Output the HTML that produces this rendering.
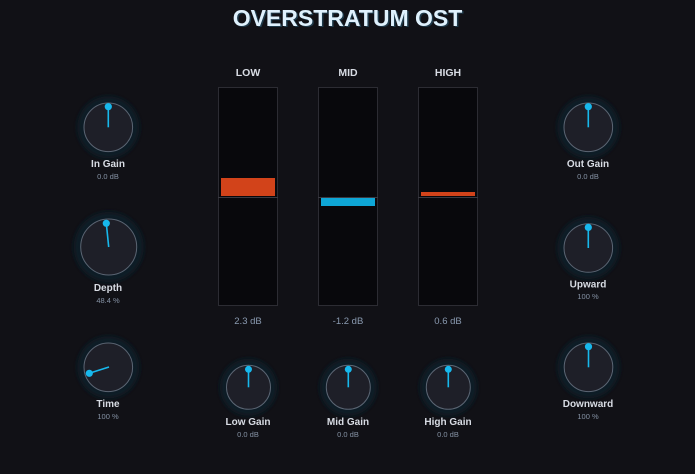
<!DOCTYPE html>
<html><head><meta charset="utf-8"><style>
html,body{margin:0;padding:0;background:#111116;width:695px;height:474px;overflow:hidden}
svg{display:block}
text{font-family:"Liberation Sans",sans-serif}
.lbl{font-size:10px;font-weight:bold;fill:#d8dce4;text-anchor:middle}
.val{font-size:7.5px;fill:#8592a4;text-anchor:middle}
.hdr{font-size:10.5px;font-weight:bold;fill:#d8dce4;text-anchor:middle}
.db{font-size:9.5px;fill:#8a9ab0;text-anchor:middle}
</style></head><body>
<svg width="695" height="474" viewBox="0 0 695 474" xmlns="http://www.w3.org/2000/svg">
<defs>
<filter id="g" x="-50%" y="-50%" width="200%" height="200%"><feGaussianBlur stdDeviation="2.5"/></filter>
</defs>
<rect width="695" height="474" fill="#111116"/>
<text x="349" y="27" text-anchor="middle" font-size="23" font-weight="bold" fill="#1f3a4a">OVERSTRATUM OST</text>
<text x="347.5" y="26" text-anchor="middle" font-size="23" font-weight="bold" fill="#dff1fd">OVERSTRATUM OST</text>

<!-- meters -->
<text class="hdr" x="248" y="76">LOW</text>
<text class="hdr" x="348" y="76">MID</text>
<text class="hdr" x="448" y="76">HIGH</text>
<rect x="218.5" y="87.5" width="59" height="218" fill="#08080c" stroke="#2c2c33" stroke-width="1"/>
<rect x="318.5" y="87.5" width="59" height="218" fill="#08080c" stroke="#2c2c33" stroke-width="1"/>
<rect x="418.5" y="87.5" width="59" height="218" fill="#08080c" stroke="#2c2c33" stroke-width="1"/>
<rect x="221" y="178" width="54" height="18" fill="#d2431a"/>
<rect x="321" y="197" width="54" height="9" fill="#0ea6d6"/>
<rect x="421" y="192" width="54" height="4" fill="#d2431a"/>
<line x1="218" y1="197.5" x2="278" y2="197.5" stroke="#3a3a42" stroke-width="1"/>
<line x1="318" y1="197.5" x2="378" y2="197.5" stroke="#3a3a42" stroke-width="1"/>
<line x1="418" y1="197.5" x2="478" y2="197.5" stroke="#3a3a42" stroke-width="1"/>
<text class="db" x="248" y="324">2.3 dB</text>
<text class="db" x="348" y="324">-1.2 dB</text>
<text class="db" x="448" y="324">0.6 dB</text>

<!-- knobs -->
<g id="k">
<!-- In Gain -->
<circle cx="108.3" cy="127.3" r="31" fill="#0b1c25" filter="url(#g)"/>
<circle cx="108.3" cy="127.3" r="24.3" fill="#1e1f28" stroke="#5b6573" stroke-width="1"/>
<line x1="108.3" y1="127.3" x2="108.3" y2="106.7" stroke="#17b8ec" stroke-width="1.6"/>
<circle cx="108.3" cy="106.7" r="3.6" fill="#17b8ec"/>
<text class="lbl" x="108" y="167">In Gain</text>
<text class="val" x="108" y="179">0.0 dB</text>

<!-- Depth -->
<circle cx="108.7" cy="247" r="35" fill="#0b1c25" filter="url(#g)"/>
<circle cx="108.7" cy="247" r="28" fill="#1e1f28" stroke="#5b6573" stroke-width="1"/>
<line x1="108.7" y1="247" x2="106.3" y2="223.3" stroke="#17b8ec" stroke-width="1.6"/>
<circle cx="106.3" cy="223.3" r="3.6" fill="#17b8ec"/>
<text class="lbl" x="108" y="291">Depth</text>
<text class="val" x="108" y="303">48.4 %</text>

<!-- Time -->
<circle cx="108.3" cy="367.3" r="31" fill="#0b1c25" filter="url(#g)"/>
<circle cx="108.3" cy="367.3" r="24.3" fill="#1e1f28" stroke="#5b6573" stroke-width="1"/>
<line x1="109" y1="367" x2="89.3" y2="373.3" stroke="#17b8ec" stroke-width="1.6"/>
<circle cx="89.3" cy="373.3" r="3.6" fill="#17b8ec"/>
<text class="lbl" x="108" y="407">Time</text>
<text class="val" x="108" y="419">100 %</text>

<!-- Out Gain -->
<circle cx="588.3" cy="127.3" r="31" fill="#0b1c25" filter="url(#g)"/>
<circle cx="588.3" cy="127.3" r="24.3" fill="#1e1f28" stroke="#5b6573" stroke-width="1"/>
<line x1="588.3" y1="127.3" x2="588.3" y2="106.7" stroke="#17b8ec" stroke-width="1.6"/>
<circle cx="588.3" cy="106.7" r="3.6" fill="#17b8ec"/>
<text class="lbl" x="588" y="167">Out Gain</text>
<text class="val" x="588" y="179">0.0 dB</text>

<!-- Upward -->
<circle cx="588.3" cy="248" r="31" fill="#0b1c25" filter="url(#g)"/>
<circle cx="588.3" cy="248" r="24.3" fill="#1e1f28" stroke="#5b6573" stroke-width="1"/>
<line x1="588.3" y1="248" x2="588.3" y2="227.4" stroke="#17b8ec" stroke-width="1.6"/>
<circle cx="588.3" cy="227.4" r="3.6" fill="#17b8ec"/>
<text class="lbl" x="588" y="287.5">Upward</text>
<text class="val" x="588" y="299">100 %</text>

<!-- Downward -->
<circle cx="588.5" cy="367.3" r="31" fill="#0b1c25" filter="url(#g)"/>
<circle cx="588.5" cy="367.3" r="24.3" fill="#1e1f28" stroke="#5b6573" stroke-width="1"/>
<line x1="588.5" y1="367.3" x2="588.5" y2="346.7" stroke="#17b8ec" stroke-width="1.6"/>
<circle cx="588.5" cy="346.7" r="3.6" fill="#17b8ec"/>
<text class="lbl" x="588" y="407">Downward</text>
<text class="val" x="588" y="419">100 %</text>

<!-- Low Gain -->
<circle cx="248.5" cy="387.3" r="28.5" fill="#0b1c25" filter="url(#g)"/>
<circle cx="248.5" cy="387.3" r="22" fill="#1e1f28" stroke="#5b6573" stroke-width="1"/>
<line x1="248.5" y1="387.3" x2="248.5" y2="369.3" stroke="#17b8ec" stroke-width="1.6"/>
<circle cx="248.5" cy="369.3" r="3.5" fill="#17b8ec"/>
<text class="lbl" x="248" y="425">Low Gain</text>
<text class="val" x="248" y="437">0.0 dB</text>

<!-- Mid Gain -->
<circle cx="348.3" cy="387.3" r="28.5" fill="#0b1c25" filter="url(#g)"/>
<circle cx="348.3" cy="387.3" r="22" fill="#1e1f28" stroke="#5b6573" stroke-width="1"/>
<line x1="348.3" y1="387.3" x2="348.3" y2="369.3" stroke="#17b8ec" stroke-width="1.6"/>
<circle cx="348.3" cy="369.3" r="3.5" fill="#17b8ec"/>
<text class="lbl" x="348" y="425">Mid Gain</text>
<text class="val" x="348" y="437">0.0 dB</text>

<!-- High Gain -->
<circle cx="448.3" cy="387.3" r="28.5" fill="#0b1c25" filter="url(#g)"/>
<circle cx="448.3" cy="387.3" r="22" fill="#1e1f28" stroke="#5b6573" stroke-width="1"/>
<line x1="448.3" y1="387.3" x2="448.3" y2="369.3" stroke="#17b8ec" stroke-width="1.6"/>
<circle cx="448.3" cy="369.3" r="3.5" fill="#17b8ec"/>
<text class="lbl" x="448" y="425">High Gain</text>
<text class="val" x="448" y="437">0.0 dB</text>
</g>
</svg>
</body></html>
